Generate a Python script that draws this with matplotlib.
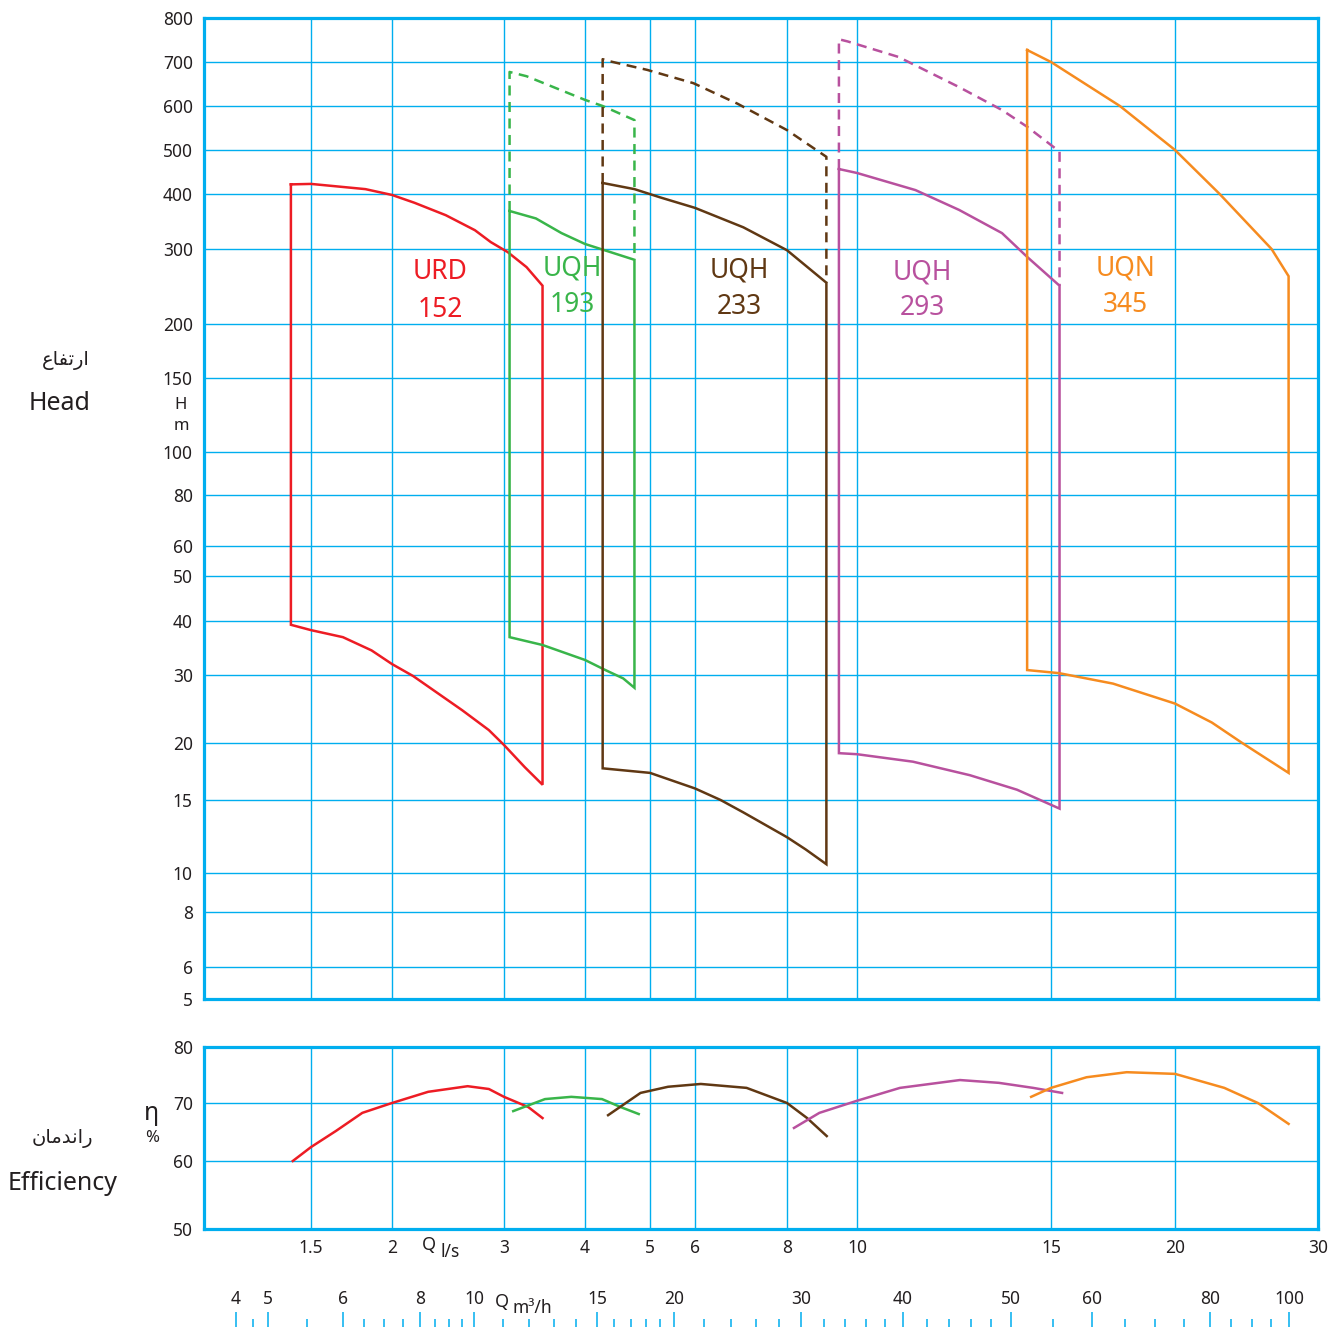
import numpy as np
import matplotlib.pyplot as plt
from matplotlib.ticker import FixedLocator, FixedFormatter, NullFormatter

# chart size in pixels
W, H = 1330, 1328

# ---- data ----
# URD 152
urd_top_q = [1.39, 1.5, 1.82, 2.0, 2.17, 2.43, 2.70, 2.86, 3.04, 3.25, 3.44]
urd_top_h = [420, 421, 410, 398, 382, 358, 331, 311, 295, 272, 246]
urd_bot_q = [1.39, 1.5, 1.68, 1.86, 2.0, 2.16, 2.58, 2.84, 3.0, 3.23, 3.44]
urd_bot_h = [39.2, 38.1, 36.7, 34.2, 31.8, 29.8, 24.3, 21.6, 19.8, 17.7, 16.2]
urd_eff_q = [1.40, 1.5, 1.64, 1.80, 2.0, 2.28, 2.63, 2.84, 3.0, 3.27, 3.44]
urd_eff = [60.0, 62.4, 65.2, 68.3, 70.0, 72.0, 73.0, 72.5, 71.1, 69.3, 67.4]

# UQH 193
uqh193_top_q = [3.06, 3.36, 3.68, 4.0, 4.25, 4.74]
uqh193_top_h = [366, 352, 326, 308, 299, 283]
uqh193_bot_q = [3.06, 3.44, 4.0, 4.29, 4.56, 4.74]
uqh193_bot_h = [36.7, 35.2, 32.5, 30.8, 29.4, 27.8]
uqh193_max_q = [3.06, 3.25, 4.0, 4.25, 4.74]
uqh193_max_h = [676, 666, 613, 600, 566]
uqh193_eff_q = [3.10, 3.47, 3.81, 4.24, 4.52, 4.81]
uqh193_eff = [68.6, 70.7, 71.1, 70.7, 69.3, 68.1]

# UQH 233
uqh233_top_q = [4.25, 4.74, 5.21, 6.0, 6.98, 8.0, 9.07]
uqh233_top_h = [423, 410, 393, 372, 336, 298, 250]
uqh233_bot_q = [4.25, 5.0, 6.0, 6.5, 6.98, 8.0, 8.49, 9.07]
uqh233_bot_h = [17.6, 17.2, 15.9, 15.0, 14.0, 12.2, 11.4, 10.5]
uqh233_max_q = [4.25, 4.34, 4.95, 5.96, 6.85, 8.0, 9.07]
uqh233_max_h = [706, 702, 681, 650, 605, 543, 483]
uqh233_eff_q = [4.33, 4.84, 5.38, 6.11, 7.05, 8.0, 8.53, 9.08]
uqh233_eff = [67.9, 71.8, 72.9, 73.4, 72.7, 70.0, 67.4, 64.3]

# UQH 293
uqh293_top_q = [9.44, 10.0, 11.3, 12.38, 13.54, 14.28, 15.3]
uqh293_top_h = [454, 445, 408, 368, 326, 287, 246]
uqh293_bot_q = [9.44, 10.0, 11.24, 12.66, 13.97, 15.3]
uqh293_bot_h = [19.0, 18.9, 18.2, 17.0, 15.8, 14.3]
uqh293_max_q = [9.44, 9.71, 10.9, 12.38, 13.54, 14.28, 15.3]
uqh293_max_h = [750, 745, 711, 641, 590, 550, 496]
uqh293_eff_q = [8.18, 8.87, 10.0, 10.94, 12.4, 13.45, 14.45, 15.39]
uqh293_eff = [65.7, 68.3, 70.4, 72.7, 74.1, 73.6, 72.7, 71.8]

# UQN 345
uqn345_top_q = [14.27, 15.0, 17.6, 20.0, 22.7, 26.3, 27.6]
uqn345_top_h = [726, 700, 600, 500, 400, 300, 259]
uqn345_bot_q = [14.27, 15.28, 17.32, 20.0, 22.2, 24.2, 27.6]
uqn345_bot_h = [30.8, 30.3, 28.5, 25.3, 22.6, 20.0, 17.2]
uqn345_eff_q = [14.39, 15.0, 16.29, 17.88, 20.0, 23.0, 25.3, 27.6]
uqn345_eff = [71.1, 72.7, 74.6, 75.5, 75.2, 72.7, 70.0, 66.4]

# tick values
q_ticks = [1, 1.5, 2, 3, 4, 5, 6, 8, 10, 15, 20, 30]
h_ticks = [5, 6, 8, 10, 15, 20, 30, 40, 50, 60, 80, 100, 150, 200, 300, 400, 500, 600, 700, 800]
eff_ticks = [50, 60, 70, 80]
m3h_major = [4, 5, 6, 8, 10, 15, 20, 30, 40, 50, 60, 80, 100]
m3h_minor = [4.5, 5.5, 6.5, 7, 7.5, 8.5, 9, 9.5, 11, 12, 13, 14, 16, 17, 18, 19,
             22, 24, 26, 28, 32, 34, 36, 38, 42, 44, 46, 48, 55, 65, 70, 75, 85, 90, 95]

# the printed grid is hand spaced, so the scales follow its gridline spacing (pixels)
q_grid_px = [204, 311, 392, 504, 585, 650, 695, 787, 857, 1051, 1175, 1318]
h_grid_px = [999, 967, 912, 873, 800, 743, 675, 621, 576, 546, 495, 452, 378, 324,
             249, 194, 150, 106, 62, 18]
eff_grid_px = [1229, 1161, 1103, 1047]
m3h_grid_px = [236, 268, 343, 420, 474, 597, 674, 801, 903, 1011, 1092, 1210, 1289]

colors = {'red': '#ED1C24', 'green': '#39B54A', 'brown': '#603813',
          'magenta': '#B8519E', 'orange': '#F68B1F'}
BLUE = '#00AEEF'
TXT = '#231F20'

plt.rcParams['font.family'] = ['Noto Sans', 'DejaVu Sans']


def grid_scale(vals, px, use_log):
    xv = np.log10(vals) if use_log else np.asarray(vals, float)
    px = np.asarray(px, float)
    fr = (px - px[0]) / (px[-1] - px[0])

    def fwd(v):
        v = np.asarray(v, float)
        if use_log:
            v = np.log10(np.clip(v, 1e-9, None))
        out = np.interp(v, xv, fr)
        out = np.where(v < xv[0], fr[0] + (v - xv[0]) * (fr[1] - fr[0]) / (xv[1] - xv[0]), out)
        out = np.where(v > xv[-1], fr[-1] + (v - xv[-1]) * (fr[-1] - fr[-2]) / (xv[-1] - xv[-2]), out)
        return out

    def inv(f):
        f = np.asarray(f, float)
        out = np.interp(f, fr, xv)
        out = np.where(f < fr[0], xv[0] + (f - fr[0]) * (xv[1] - xv[0]) / (fr[1] - fr[0]), out)
        out = np.where(f > fr[-1], xv[-1] + (f - fr[-1]) * (xv[-1] - xv[-2]) / (fr[-1] - fr[-2]), out)
        return 10 ** out if use_log else out

    return fwd, inv


q_fwd, q_inv = grid_scale(q_ticks, q_grid_px, True)
h_fwd, h_inv = grid_scale(h_ticks, h_grid_px, True)
e_fwd, e_inv = grid_scale(eff_ticks, eff_grid_px, False)
m_fwd, m_inv = grid_scale(m3h_major, m3h_grid_px, True)


def fx(x):
    return x / W


def fy(y):
    return 1 - y / H


fig = plt.figure(figsize=(W / 100, H / 100), dpi=100)
ax = fig.add_axes([fx(204), fy(999), (1318 - 204) / W, (999 - 18) / H])
ax2 = fig.add_axes([fx(204), fy(1229), (1318 - 204) / W, (1229 - 1047) / H])
ax3 = fig.add_axes([fx(m3h_grid_px[0]), 0, (m3h_grid_px[-1] - m3h_grid_px[0]) / W, 0.0004])

for a in (ax, ax2):
    a.set_xscale('function', functions=(q_fwd, q_inv))
    a.set_xlim(q_ticks[0], q_ticks[-1])
    a.xaxis.set_major_locator(FixedLocator(q_ticks))
    a.xaxis.set_minor_locator(FixedLocator([]))
    a.grid(True, color=BLUE, linewidth=1.0)
    a.tick_params(length=0, labelsize=12.5, labelcolor=TXT)
    for s in a.spines.values():
        s.set_color(BLUE)
        s.set_linewidth(2.3)
    a.set_axisbelow(True)

# head panel
ax.set_yscale('function', functions=(h_fwd, h_inv))
ax.set_ylim(h_ticks[0], h_ticks[-1])
ax.yaxis.set_major_locator(FixedLocator(h_ticks))
ax.yaxis.set_major_formatter(FixedFormatter([str(v) for v in h_ticks]))
ax.yaxis.set_minor_locator(FixedLocator([]))
ax.xaxis.set_major_formatter(NullFormatter())
ax.tick_params(axis='y', pad=8)

pumps = [
    (urd_top_q, urd_top_h, urd_bot_q, urd_bot_h, None, None, 'red'),
    (uqh193_top_q, uqh193_top_h, uqh193_bot_q, uqh193_bot_h, uqh193_max_q, uqh193_max_h, 'green'),
    (uqh233_top_q, uqh233_top_h, uqh233_bot_q, uqh233_bot_h, uqh233_max_q, uqh233_max_h, 'brown'),
    (uqh293_top_q, uqh293_top_h, uqh293_bot_q, uqh293_bot_h, uqh293_max_q, uqh293_max_h, 'magenta'),
    (uqn345_top_q, uqn345_top_h, uqn345_bot_q, uqn345_bot_h, None, None, 'orange'),
]
for tq, th, bq, bh, mq, mh, c in pumps:
    q = tq + bq[::-1] + [tq[0]]
    h = th + bh[::-1] + [th[0]]
    ax.plot(q, h, color=colors[c], linewidth=1.8, solid_joinstyle='miter')
    if mq is not None:
        ax.plot([tq[0]] + mq + [tq[-1]], [th[0]] + mh + [th[-1]], color=colors[c],
                linewidth=1.8, linestyle=(0, (4, 2.6)))

labels = [('URD', '152', 440, 272, 310, 'red'),
          ('UQH', '193', 572, 268, 305, 'green'),
          ('UQH', '233', 739, 271, 307, 'brown'),
          ('UQH', '293', 922, 272, 308, 'magenta'),
          ('UQN', '345', 1125, 268, 305, 'orange')]
for name, num, x, y1, y2, c in labels:
    fig.text(fx(x), fy(y1), name, color=colors[c], fontsize=19, ha='center', va='center')
    fig.text(fx(x), fy(y2), num, color=colors[c], fontsize=19, ha='center', va='center')

# efficiency panel
ax2.set_yscale('function', functions=(e_fwd, e_inv))
ax2.set_ylim(eff_ticks[0], eff_ticks[-1])
ax2.yaxis.set_major_locator(FixedLocator(eff_ticks))
ax2.yaxis.set_minor_locator(FixedLocator([]))
ax2.xaxis.set_major_formatter(FixedFormatter([''] + [f'{v:g}' for v in q_ticks[1:]]))
ax2.tick_params(axis='y', pad=8)
ax2.tick_params(axis='x', pad=7)

effs = [(urd_eff_q, urd_eff, 'red'), (uqh193_eff_q, uqh193_eff, 'green'),
        (uqh233_eff_q, uqh233_eff, 'brown'), (uqh293_eff_q, uqh293_eff, 'magenta'),
        (uqn345_eff_q, uqn345_eff, 'orange')]
for q, e, c in effs:
    ax2.plot(q, e, color=colors[c], linewidth=1.8)

# m3/h scale at the bottom (printed with its own spacing)
ax3.set_xscale('function', functions=(m_fwd, m_inv))
ax3.set_xlim(m3h_major[0], m3h_major[-1])
ax3.set_yticks([])
for s in ax3.spines.values():
    s.set_visible(False)
ax3.xaxis.set_major_locator(FixedLocator(m3h_major))
ax3.xaxis.set_major_formatter(FixedFormatter([str(v) for v in m3h_major]))
ax3.xaxis.set_minor_locator(FixedLocator(m3h_minor))
ax3.xaxis.set_ticks_position('top')
ax3.xaxis.set_label_position('top')
ax3.tick_params(axis='x', which='major', direction='out', length=11, width=1.1,
                color=BLUE, labelsize=12.5, labelcolor=TXT, pad=3)
ax3.tick_params(axis='x', which='minor', direction='out', length=6, width=1.1, color=BLUE)
ax3.patch.set_visible(False)

# axis titles
fig.text(fx(66), fy(361), '\uFEC9\uFE8E\uFED4\uFE97\uFEAD\uFE8D', family=['DejaVu Sans'],
         fontsize=14, color=TXT, ha='center', va='center')
fig.text(fx(60), fy(404), 'Head', fontsize=18, color=TXT, ha='center', va='center')
fig.text(fx(181), fy(405), 'H', fontsize=12, color=TXT, ha='center', va='center')
fig.text(fx(181), fy(426), 'm', fontsize=12, color=TXT, ha='center', va='center')
fig.text(fx(62), fy(1138), '\uFEE5\uFE8E\uFEE3\uFEAA\uFEE7\uFE8D\uFEAD', family=['DejaVu Sans'],
         fontsize=14, color=TXT, ha='center', va='center')
fig.text(fx(63), fy(1184), 'Efficiency', fontsize=18, color=TXT, ha='center', va='center')
fig.text(fx(151), fy(1113), '\u03b7', fontsize=18, color=TXT, ha='center', va='center')
fig.text(fx(152), fy(1138), '%', fontsize=12, color=TXT, ha='center', va='center')
fig.text(fx(429), fy(1245), 'Q', fontsize=13, color=TXT, ha='center', va='center')
fig.text(fx(440), fy(1252), 'l/s', fontsize=12.5, color=TXT, ha='left', va='center')
fig.text(fx(502), fy(1302), 'Q', fontsize=13, color=TXT, ha='center', va='center')
fig.text(fx(512), fy(1308), 'm\u00b3/h', fontsize=12.5, color=TXT, ha='left', va='center')

fig.savefig('out.png', dpi=100)
